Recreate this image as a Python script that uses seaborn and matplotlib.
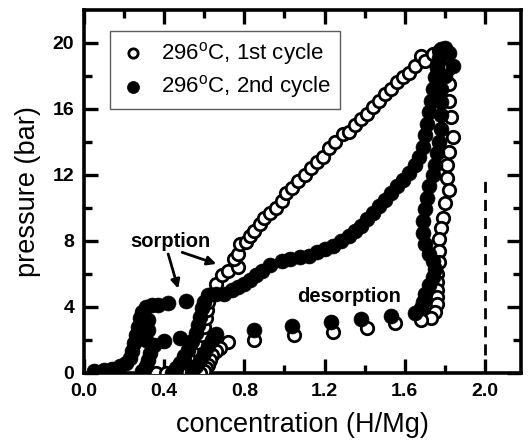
import pandas as pd
import numpy as np
import matplotlib
matplotlib.use('Agg')
import matplotlib.pyplot as plt
import seaborn as sns

# 296 C, 1st cycle (open symbols): sorption then desorption
c1_x = [0.36, 0.41, 0.48, 0.52, 0.54, 0.55, 0.56, 0.57, 0.58, 0.59, 0.60, 0.61,
        0.615, 0.62, 0.64, 0.66, 0.69, 0.72, 0.77, 0.75, 0.77, 0.78, 0.81, 0.83,
        0.85, 0.88, 0.90, 0.93, 0.96, 0.99, 1.01, 1.04, 1.07, 1.10, 1.13, 1.16,
        1.19, 1.22, 1.25, 1.29, 1.32, 1.35, 1.38, 1.41, 1.44, 1.47, 1.50, 1.53,
        1.56, 1.59, 1.62, 1.65, 1.68, 1.70,
        1.74, 1.77, 1.80, 1.82, 1.82, 1.82, 1.83, 1.84, 1.82, 1.81, 1.81, 1.82,
        1.80, 1.79, 1.78, 1.77, 1.77, 1.77, 1.76, 1.76, 1.76, 1.76, 1.76, 1.75,
        1.73, 1.68, 1.55, 1.41, 1.24, 1.05, 0.85, 0.72, 0.68, 0.66, 0.64, 0.63,
        0.62, 0.61, 0.60, 0.58]
c1_y = [0.0, 0.0, 0.0, 0.05, 0.2, 0.5, 0.9, 1.3, 1.8, 2.3, 2.8, 3.3,
        3.8, 4.3, 4.8, 5.4, 5.9, 6.2, 6.4, 6.9, 7.2, 7.8, 7.9, 8.3,
        8.6, 9.0, 9.4, 9.7, 10.0, 10.4, 10.9, 11.2, 11.6, 12.0, 12.4, 12.8,
        13.1, 13.6, 14.0, 14.5, 14.6, 15.0, 15.4, 15.7, 16.1, 16.5, 16.9, 17.2,
        17.6, 17.9, 18.2, 18.6, 19.2, 18.9,
        19.3, 19.5, 19.2, 18.5, 17.5, 16.5, 15.5, 14.3, 13.4, 12.6, 11.8, 11.1,
        10.3, 9.4, 8.8, 8.1, 7.4, 6.7, 6.0, 5.5, 5.0, 4.6, 4.2, 3.7,
        3.3, 3.2, 3.0, 2.7, 2.5, 2.3, 2.0, 1.85, 1.5, 1.3, 1.1, 0.8,
        0.5, 0.3, 0.1, 0.0]

# 296 C, 2nd cycle (filled symbols): sorption then desorption
c2_x = [0.05, 0.10, 0.14, 0.18, 0.21, 0.23, 0.24, 0.25, 0.26, 0.27, 0.28, 0.29,
        0.31, 0.34, 0.37, 0.42, 0.51,
        0.44, 0.46, 0.48, 0.50, 0.52, 0.54, 0.56, 0.57, 0.58, 0.59, 0.60, 0.62,
        0.66, 0.70, 0.74, 0.77, 0.80, 0.83, 0.86, 0.89, 0.93, 0.99, 1.03, 1.08,
        1.12, 1.16, 1.20, 1.24, 1.28, 1.32, 1.35, 1.38, 1.41, 1.44, 1.47, 1.50,
        1.53, 1.56, 1.59, 1.62, 1.65, 1.67, 1.69, 1.70, 1.71, 1.72, 1.73, 1.74,
        1.75, 1.76, 1.77, 1.78,
        1.80, 1.82, 1.84, 1.80, 1.78, 1.78, 1.78, 1.78, 1.77, 1.76, 1.75, 1.74,
        1.72, 1.71, 1.70, 1.69, 1.69, 1.70, 1.72, 1.74, 1.75, 1.74, 1.72, 1.70,
        1.69, 1.68, 1.65, 1.53, 1.38, 1.23, 1.04, 0.85, 0.66, 0.48, 0.40, 0.35,
        0.33, 0.32, 0.31, 0.29,
        0.64, 0.62, 0.60, 0.58, 0.56, 0.54,
        0.31, 0.32, 0.32]
c2_y = [0.1, 0.15, 0.25, 0.4, 0.6, 0.9, 1.3, 1.8, 2.3, 2.8, 3.3, 3.7,
        4.0, 4.1, 4.1, 4.25, 4.35,
        0.0, 0.3, 0.6, 1.0, 1.4, 1.9, 2.4, 2.9, 3.4, 3.9, 4.3, 4.7,
        4.75, 4.8, 5.0, 5.2, 5.4, 5.6, 5.9, 6.2, 6.55, 6.75, 6.9, 7.0,
        7.1, 7.3, 7.5, 7.7, 8.0, 8.3, 8.6, 8.9, 9.3, 9.7, 10.1, 10.5,
        10.9, 11.3, 11.7, 12.1, 12.6, 13.1, 13.7, 14.4, 15.1, 15.8, 16.5, 17.2,
        17.9, 18.5, 19.1, 19.6,
        19.7, 19.4, 18.6, 18.0, 17.2, 16.4, 15.6, 14.8, 14.0, 13.3, 12.6, 12.0,
        11.3, 10.6, 9.9, 9.2, 8.5, 7.8, 7.2, 6.8, 6.3, 5.8, 5.3, 4.8,
        4.3, 3.9, 3.6, 3.45, 3.25, 3.05, 2.85, 2.6, 2.35, 2.1, 1.95, 1.7,
        1.2, 0.8, 0.4, 0.1,
        2.0, 1.6, 1.2, 0.8, 0.4, 0.0,
        2.0, 2.6, 3.2]

labels = ['296$^{\\mathrm{o}}$C, 1st cycle', '296$^{\\mathrm{o}}$C, 2nd cycle']

sns.set_style('ticks')
plt.rcParams['font.family'] = ['Liberation Sans', 'DejaVu Sans']
plt.rcParams['mathtext.fontset'] = 'custom'
plt.rcParams['mathtext.rm'] = 'Liberation Sans'
plt.rcParams['text.color'] = 'black'
plt.rcParams['axes.labelcolor'] = 'black'
plt.rcParams['xtick.color'] = 'black'
plt.rcParams['ytick.color'] = 'black'

fig = plt.figure(figsize=(5.3, 4.47), dpi=100)
ax = fig.add_axes([0.1585, 0.166, 0.8245, 0.812])

sns.scatterplot(x=c1_x, y=c1_y, ax=ax, marker='o', s=80, facecolor='white',
                edgecolor='black', linewidth=2.0, label=labels[0], zorder=3)
sns.scatterplot(x=c2_x, y=c2_y, ax=ax, marker='o', s=115, color='black',
                edgecolor='black', linewidth=0.5, label=labels[1], zorder=4)

ax.plot([2.0, 2.0], [0, 11.6], color='black', lw=2, ls=(0, (4, 2.5)), zorder=2)

ax.text(0.43, 7.95, 'sorption', ha='center', va='center',
        fontsize=14.5, fontweight='bold')
ax.annotate('', xy=(0.47, 5.1), xytext=(0.42, 7.2),
            arrowprops=dict(arrowstyle='-|>', color='black', lw=2,
                            shrinkA=0, shrinkB=0, mutation_scale=13))
ax.annotate('', xy=(0.66, 6.6), xytext=(0.49, 7.3),
            arrowprops=dict(arrowstyle='-|>', color='black', lw=2,
                            shrinkA=0, shrinkB=0, mutation_scale=13))
ax.text(1.32, 4.6, 'desorption', ha='center', va='center',
        fontsize=14.5, fontweight='bold')

ax.set_xlim(0, 2.18)
ax.set_ylim(0, 22)
ax.set_xticks([0.0, 0.4, 0.8, 1.2, 1.6, 2.0])
ax.set_xticklabels(['0.0', '0.4', '0.8', '1.2', '1.6', '2.0'])
ax.set_xticks(np.arange(0.2, 2.2, 0.4), minor=True)
ax.set_yticks([0, 4, 8, 12, 16, 20])
ax.set_yticklabels(['0', '4', '8', '12', '16', '20'])
ax.set_yticks([2, 6, 10, 14, 18], minor=True)

ax.tick_params(which='both', direction='in', top=True, right=True, width=2.4,
               labelsize=14, pad=7, color='black', labelcolor='black')
ax.tick_params(which='major', length=10)
ax.tick_params(which='minor', length=6)
for lab in ax.get_xticklabels() + ax.get_yticklabels():
    lab.set_fontweight('bold')
for sp in ax.spines.values():
    sp.set_linewidth(2.6)
    sp.set_color('black')

ax.set_xlabel('concentration (H/Mg)', fontsize=19.5, labelpad=9)
ax.set_ylabel('pressure (bar)', fontsize=19.5, labelpad=8)

leg = ax.legend(loc='upper left', bbox_to_anchor=(0.0595, 0.942), borderaxespad=0,
                fontsize=16, frameon=True, fancybox=False, handletextpad=0.6,
                borderpad=0.4, labelspacing=0.3, handlelength=1.3)
leg.get_frame().set_edgecolor('#333333')
leg.get_frame().set_linewidth(1.0)
leg.legend_handles[0].set_sizes([45])
leg.legend_handles[1].set_sizes([75])

fig.savefig('out.png', dpi=100)
